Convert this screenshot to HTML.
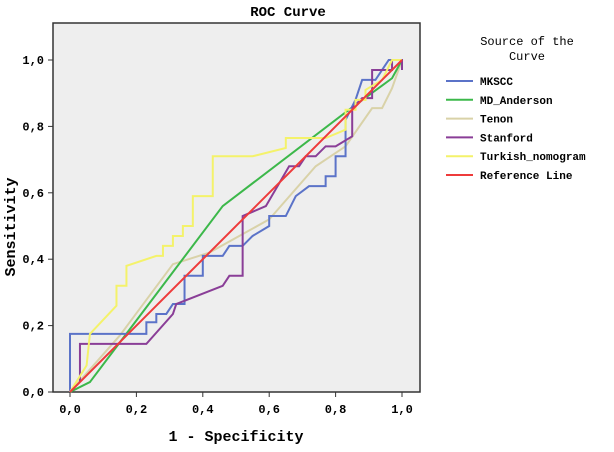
<!DOCTYPE html>
<html><head><meta charset="utf-8"><style>
body{margin:0;background:#fff;width:614px;height:447px;overflow:hidden;font-family:"Liberation Mono",monospace}
text{font-family:"Liberation Mono",monospace}
</style></head><body>
<svg width="614" height="447">
<text x="288" y="16" text-anchor="middle" font-size="14" font-weight="bold">ROC Curve</text>
<rect x="53" y="23" width="367" height="369" fill="#eeeeee" stroke="#333" stroke-width="1.5"/>
<g id="axes"></g>
<g id="series"></g>
<text x="236" y="441" text-anchor="middle" font-size="15" font-weight="bold">1 - Specificity</text>
<text transform="translate(15,227) rotate(-90)" text-anchor="middle" font-size="15" font-weight="bold">Sensitivity</text>
<g>
<text x="527" y="45" text-anchor="middle" font-size="12">Source of the</text>
<text x="527" y="60" text-anchor="middle" font-size="12">Curve</text>
<g id="legend"></g>
</g>
</svg>
<script>
const ticks=[0,0.2,0.4,0.6,0.8,1.0];
const tickLabels=["0,0","0,2","0,4","0,6","0,8","1,0"];
const seriesNames=["MKSCC","MD_Anderson","Tenon","Stanford","Turkish_nomogram","Reference Line"];
const seriesColors=["#5b73c8","#3cb84a","#d9d2a8","#8a3e97","#f4f26a","#ee3b3b"];
const mkscc=[[0,0],[0,0.175],[0.23,0.175],[0.23,0.21],[0.26,0.21],[0.26,0.235],[0.29,0.235],[0.31,0.265],[0.345,0.265],[0.345,0.35],[0.40,0.35],[0.40,0.41],[0.46,0.41],[0.48,0.44],[0.52,0.44],[0.55,0.47],[0.60,0.5],[0.60,0.53],[0.65,0.53],[0.68,0.59],[0.72,0.62],[0.77,0.62],[0.77,0.65],[0.80,0.65],[0.80,0.71],[0.83,0.71],[0.83,0.82],[0.86,0.88],[0.88,0.94],[0.92,0.94],[0.96,1],[1,1]];
const mdAnderson=[[0,0],[0.06,0.03],[0.46,0.56],[0.84,0.85],[0.97,0.945],[1,1]];
const tenon=[[0,0],[0.15,0.17],[0.31,0.385],[0.42,0.42],[0.6,0.52],[0.74,0.68],[0.83,0.74],[0.91,0.855],[0.94,0.855],[0.97,0.915],[1,1]];
const stanford=[[0.03,0.03],[0.03,0.145],[0.23,0.145],[0.31,0.235],[0.32,0.265],[0.46,0.32],[0.48,0.35],[0.52,0.35],[0.52,0.53],[0.59,0.56],[0.66,0.68],[0.69,0.68],[0.71,0.71],[0.74,0.71],[0.77,0.74],[0.80,0.74],[0.85,0.77],[0.85,0.855],[0.88,0.885],[0.91,0.885],[0.91,0.97],[0.97,0.97],[0.97,1],[1,1],[1,0.97]];
const turkish=[[0,0],[0.05,0.08],[0.06,0.175],[0.14,0.26],[0.14,0.32],[0.17,0.32],[0.17,0.38],[0.26,0.41],[0.28,0.41],[0.28,0.44],[0.31,0.44],[0.31,0.47],[0.34,0.47],[0.34,0.5],[0.37,0.5],[0.37,0.59],[0.43,0.59],[0.43,0.71],[0.55,0.71],[0.65,0.735],[0.65,0.765],[0.77,0.765],[0.83,0.79],[0.83,0.85],[0.86,0.85],[0.86,0.88],[0.89,0.88],[0.89,0.91],[0.94,0.94],[0.97,1],[1,1]];
const reference=[[0,0],[1,1]];
const allSeries=[mkscc,mdAnderson,tenon,stanford,turkish,reference];
const xs=v=>70+v*332, ys=v=>392-v*332;
const NS="http://www.w3.org/2000/svg";
const ax=document.getElementById('axes');
function mk(tag,attrs,parent){const e=document.createElementNS(NS,tag);for(const k in attrs)e.setAttribute(k,attrs[k]);parent.appendChild(e);return e;}
ticks.forEach((t,i)=>{
 let l=mk('line',{x1:xs(t),x2:xs(t),y1:392,y2:397,stroke:'#333'},ax);
 
 
 let tx=mk('text',{x:xs(t),y:413,'text-anchor':'middle','font-size':'12','font-weight':'bold'},ax);tx.textContent=tickLabels[i];
 
 
 let l2=mk('line',{x1:48,x2:53,y1:ys(t),y2:ys(t),stroke:'#333'},ax);
 
 
 let ty=mk('text',{x:44,y:ys(t)+4,'text-anchor':'end','font-size':'12','font-weight':'bold'},ax);ty.textContent=tickLabels[i];
 
 
});
const sg=document.getElementById('series');
const order=[2,1,0,3,4,5];
order.forEach(i=>{
 const p=mk('polyline',{points:allSeries[i].map(d=>xs(d[0])+','+ys(d[1])).join(' '),fill:'none',stroke:seriesColors[i],'stroke-width':'2'},sg);
 
 
});
const lg=document.getElementById('legend');
seriesNames.forEach((n,i)=>{
 const y=81+i*18.8;
 const l=mk('line',{x1:446,x2:473,y1:y,y2:y,stroke:seriesColors[i],'stroke-width':'2'},lg);
 
 
 const t=mk('text',{x:480,y:y+4,'font-size':'11','font-weight':'bold'},lg);t.textContent=n;
 
 
});
</script>
</body></html>
